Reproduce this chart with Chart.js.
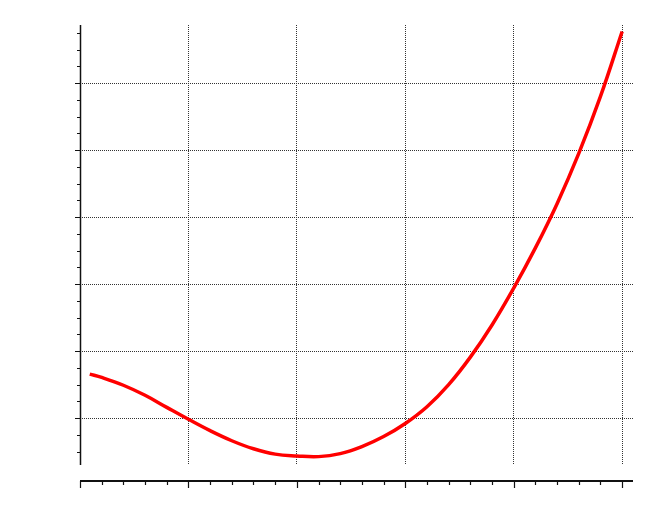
<!DOCTYPE html>
<html>
<head>
<meta charset="utf-8">
<script src="https://cdn.jsdelivr.net/npm/chart.js@4.4.1/dist/chart.umd.min.js"></script>
<style>
  html, body { margin: 0; padding: 0; background: #fff; }
  canvas { display: block; }
</style>
</head>
<body>
<canvas id="curveChart" width="664" height="506"></canvas>
<script>
// Curve samples
const xValues = [0.09, 0.2, 0.4, 0.6, 0.8, 1.0, 1.2, 1.4, 1.6, 1.8, 2.0, 2.2, 2.4, 2.6, 2.8, 3.0, 3.2, 3.4, 3.6, 3.8, 4.0, 4.2, 4.4, 4.6, 4.8, 5.0];
const yValues = [1.657, 1.607, 1.49, 1.34, 1.16, 0.982, 0.812, 0.662, 0.542, 0.462, 0.435, 0.425, 0.47, 0.575, 0.725, 0.92, 1.17, 1.50, 1.91, 2.39, 2.94, 3.54, 4.20, 4.95, 5.80, 6.77];

// Axis ticks (no labels in the original)
const xMajorTicks = [0, 1, 2, 3, 4, 5];
const xMinorTicks = [0.2, 0.4, 0.6, 0.8, 1.2, 1.4, 1.6, 1.8, 2.2, 2.4, 2.6, 2.8, 3.2, 3.4, 3.6, 3.8, 4.2, 4.4, 4.6, 4.8];
const yMajorTicks = [1, 2, 3, 4, 5, 6];
const yMinorTicks = [0.5, 0.75, 1.25, 1.5, 1.75, 2.25, 2.5, 2.75, 3.25, 3.5, 3.75, 4.25, 4.5, 4.75, 5.25, 5.5, 5.75, 6.25, 6.5, 6.75];

// draws the detached axis lines and their tick marks
const axisPlugin = {
    id: 'axisLines',
    afterDraw(chart) {
        const ctx = chart.ctx;
        const area = chart.chartArea;
        const xs = chart.scales.x;
        const ys = chart.scales.y;
        const axisY = area.bottom + 16;
        ctx.save();
        ctx.strokeStyle = '#111';

        // y axis
        ctx.lineWidth = 1.5;
        ctx.beginPath();
        ctx.moveTo(area.left + 0.5, area.top);
        ctx.lineTo(area.left + 0.5, area.bottom);
        ctx.stroke();
        ctx.lineWidth = 1.2;
        ctx.beginPath();
        yMajorTicks.forEach(v => {
            const py = Math.round(ys.getPixelForValue(v)) + 0.5;
            ctx.moveTo(area.left - 5, py);
            ctx.lineTo(area.left, py);
        });
        yMinorTicks.forEach(v => {
            const py = Math.round(ys.getPixelForValue(v)) + 0.5;
            ctx.moveTo(area.left - 3, py);
            ctx.lineTo(area.left, py);
        });
        ctx.stroke();

        // x axis
        ctx.lineWidth = 2;
        ctx.beginPath();
        ctx.moveTo(area.left, axisY);
        ctx.lineTo(area.right, axisY);
        ctx.stroke();
        ctx.lineWidth = 1.2;
        ctx.beginPath();
        xMajorTicks.forEach(v => {
            const px = Math.round(xs.getPixelForValue(v)) + 0.5;
            ctx.moveTo(px, axisY);
            ctx.lineTo(px, axisY + 7);
        });
        xMinorTicks.forEach(v => {
            const px = Math.round(xs.getPixelForValue(v)) + 0.5;
            ctx.moveTo(px, axisY);
            ctx.lineTo(px, axisY + 4);
        });
        ctx.stroke();
        ctx.restore();
    }
};

const ctx = document.getElementById('curveChart').getContext('2d');

const chart = new Chart(ctx, {
    type: 'line',
    data: {
        datasets: [{
            data: xValues.map((x, i) => ({ x: x, y: yValues[i] })),
            borderColor: '#ff0000',
            borderWidth: 3.5,
            pointRadius: 0,
            fill: false,
            tension: 0.4
        }]
    },
    options: {
        responsive: false,
        animation: false,
        devicePixelRatio: 1,
        layout: {
            padding: { left: 80, right: 31, top: 25, bottom: 41 }
        },
        plugins: {
            legend: { display: false },
            tooltip: { enabled: false }
        },
        scales: {
            x: {
                type: 'linear',
                min: 0,
                max: 5.1,
                afterBuildTicks: scale => {
                    scale.ticks = xMajorTicks.filter(v => v > 0).map(v => ({ value: v }));
                },
                ticks: { display: false },
                grid: { color: '#333', lineWidth: 1, drawTicks: false },
                border: { display: false, dash: [1, 1] }
            },
            y: {
                type: 'linear',
                min: 0.3,
                max: 6.866,
                afterBuildTicks: scale => {
                    scale.ticks = yMajorTicks.map(v => ({ value: v }));
                },
                ticks: { display: false },
                grid: { color: '#333', lineWidth: 1, drawTicks: false },
                border: { display: false, dash: [1, 1] }
            }
        }
    },
    plugins: [axisPlugin]
});
</script>
</body>
</html>
